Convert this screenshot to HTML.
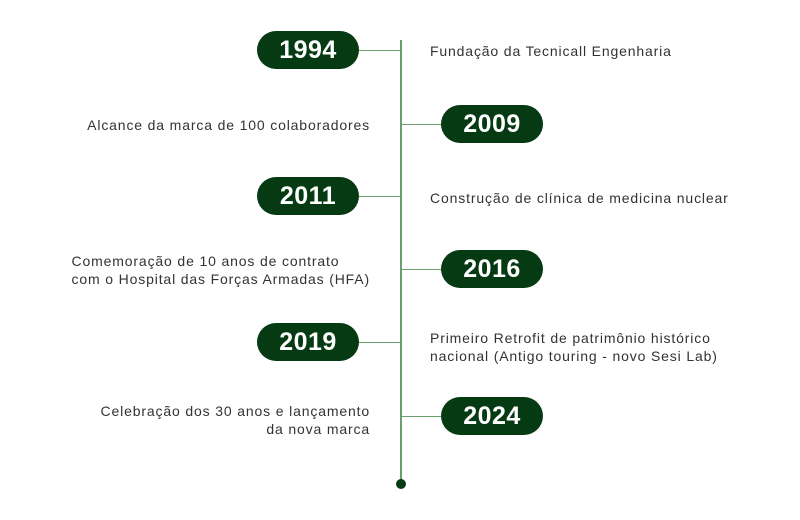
<!DOCTYPE html>
<html><head><meta charset="utf-8"><style>
body{margin:0;width:800px;height:520px;background:#fff;position:relative;font-family:"Liberation Sans",sans-serif;overflow:hidden}
.pill{position:absolute;width:102px;height:38px;border-radius:19px;background:#063a12;color:#fff;font-weight:bold;font-size:25px;line-height:38px;text-align:center;letter-spacing:0.5px}
.h{position:absolute;height:1px;background:#6a9e6a}
.t{position:absolute;font-size:14px;letter-spacing:0.85px;color:#333;line-height:18px;white-space:nowrap}
.l{text-align:right;right:430px}
.r{left:430px}
</style></head><body>
<div style="position:absolute;left:400px;top:40px;width:2px;height:444px;background:#6a9e6a"></div>
<div style="position:absolute;left:396px;top:479px;width:10px;height:10px;border-radius:50%;background:#063a12"></div>

<div class="h" style="left:359px;width:42px;top:50px"></div>
<div class="pill" style="left:257px;top:31px">1994</div>
<div class="t r" style="top:42px">Fundação da Tecnicall Engenharia</div>

<div class="h" style="left:401px;width:40px;top:124px"></div>
<div class="pill" style="left:441px;top:105px">2009</div>
<div class="t l" style="top:116px">Alcance da marca de 100 colaboradores</div>

<div class="h" style="left:359px;width:42px;top:196px"></div>
<div class="pill" style="left:257px;top:177px">2011</div>
<div class="t r" style="top:189px">Construção de clínica de medicina nuclear</div>

<div class="h" style="left:401px;width:40px;top:269px"></div>
<div class="pill" style="left:441px;top:250px">2016</div>
<div class="t l" style="top:252px;text-align:left">Comemoração de 10 anos de contrato<br>com o Hospital das Forças Armadas (HFA)</div>

<div class="h" style="left:359px;width:42px;top:342px"></div>
<div class="pill" style="left:257px;top:323px">2019</div>
<div class="t r" style="top:329px">Primeiro Retrofit de patrimônio histórico<br>nacional (Antigo touring - novo Sesi Lab)</div>

<div class="h" style="left:401px;width:40px;top:416px"></div>
<div class="pill" style="left:441px;top:397px">2024</div>
<div class="t l" style="top:402px">Celebração dos 30 anos e lançamento<br>da nova marca</div>
</body></html>
